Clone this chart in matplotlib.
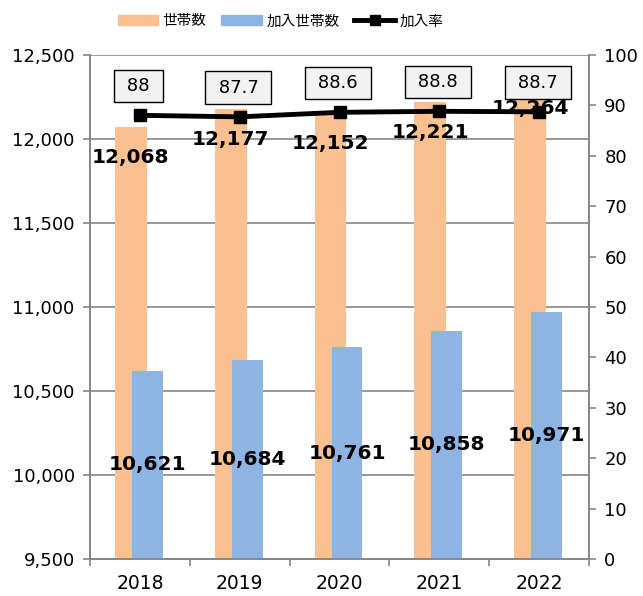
import matplotlib
matplotlib.use('Agg')
import matplotlib.pyplot as plt
from matplotlib.lines import Line2D
from matplotlib.patches import Patch
import numpy as np

plt.rcParams['font.family'] = ['DejaVu Sans', 'Noto Sans CJK JP']

years = ['2018', '2019', '2020', '2021', '2022']
households = [12068, 12177, 12152, 12221, 12264]
joined = [10621, 10684, 10761, 10858, 10971]
rate = [88, 87.7, 88.6, 88.8, 88.7]

orange = '#FAC090'
blue = '#8EB4E3'
axis_gray = '#868686'

fig = plt.figure(figsize=(6.43, 5.96), dpi=100)
ax = fig.add_axes([0.140, 0.062, 0.776, 0.846])
ax2 = ax.twinx()
ax2.set_zorder(ax.get_zorder() + 1)
ax2.patch.set_visible(False)

x = np.arange(len(years))
ax.bar(x - 0.09, households, 0.32, color=orange, zorder=2)
ax.bar(x + 0.075, joined, 0.31, color=blue, zorder=3)

ax.set_ylim(9500, 12500)
ax.set_yticks(np.arange(9500, 12501, 500))
ax.set_yticklabels([f'{v:,}' for v in np.arange(9500, 12501, 500)], fontsize=13)
ax.yaxis.grid(True, color=axis_gray, lw=1.2, zorder=0)
ax.set_axisbelow(True)
ax.set_xlim(-0.5, 4.5)
ax.set_xticks(np.arange(-0.5, 5, 1))
ax.set_xticklabels([])
ax.set_xticks(x, minor=True)
ax.set_xticklabels(years, minor=True, fontsize=13.5)
ax.tick_params(axis='x', which='minor', length=0, pad=11)
ax.tick_params(axis='x', which='major', length=5, color=axis_gray, width=1.2)
ax.tick_params(axis='y', length=5, color=axis_gray, width=1.2, pad=6)

# labels on the orange bars (inside end), and the blue bars (center)
orange_off = [-22, -22, -22, -22, -10]
for i, v in enumerate(households):
    ax.annotate(f'{v:,}', (x[i] - 0.09, v), xytext=(0, orange_off[i]),
                textcoords='offset points', ha='center', va='center',
                fontsize=14.5, fontweight='bold', zorder=5)
for i, v in enumerate(joined):
    ax.text(x[i] + 0.075, (9500 + v) / 2, f'{v:,}', ha='center', va='center',
            fontsize=14.5, fontweight='bold', zorder=5)

ax2.plot(x, rate, color='black', lw=3.5, marker='s', ms=8, zorder=4)
ax2.set_ylim(0, 100)
ax2.set_yticks(np.arange(0, 101, 10))
ax2.tick_params(axis='y', length=5, color=axis_gray, width=1.2, labelsize=13, pad=6)
for i, v in enumerate(rate):
    ax2.annotate(f' {v:g} ', (x[i], v), xytext=(-1, 21), textcoords='offset points',
                 ha='center', va='center', fontsize=13,
                 bbox=dict(boxstyle='square,pad=0.4', fc='#F2F2F2', ec='black', lw=1))

for a in (ax, ax2):
    a.spines['top'].set_visible(False)
    for s in ('left', 'right', 'bottom'):
        a.spines[s].set_color(axis_gray)
        a.spines[s].set_linewidth(1.2)

handles = [Patch(color=orange), Patch(color=blue),
           Line2D([], [], color='black', lw=3.5, marker='s', ms=7)]
fig.legend(handles, ['世帯数', '加入世帯数', '加入率'], loc='center',
           bbox_to_anchor=(0.436, 0.964), ncol=3, frameon=False,
           prop={'family': 'Noto Sans CJK JP', 'size': 10.5},
           handlelength=2.8, handletextpad=0.3, columnspacing=1.0)

fig.savefig('out.png', dpi=100)
